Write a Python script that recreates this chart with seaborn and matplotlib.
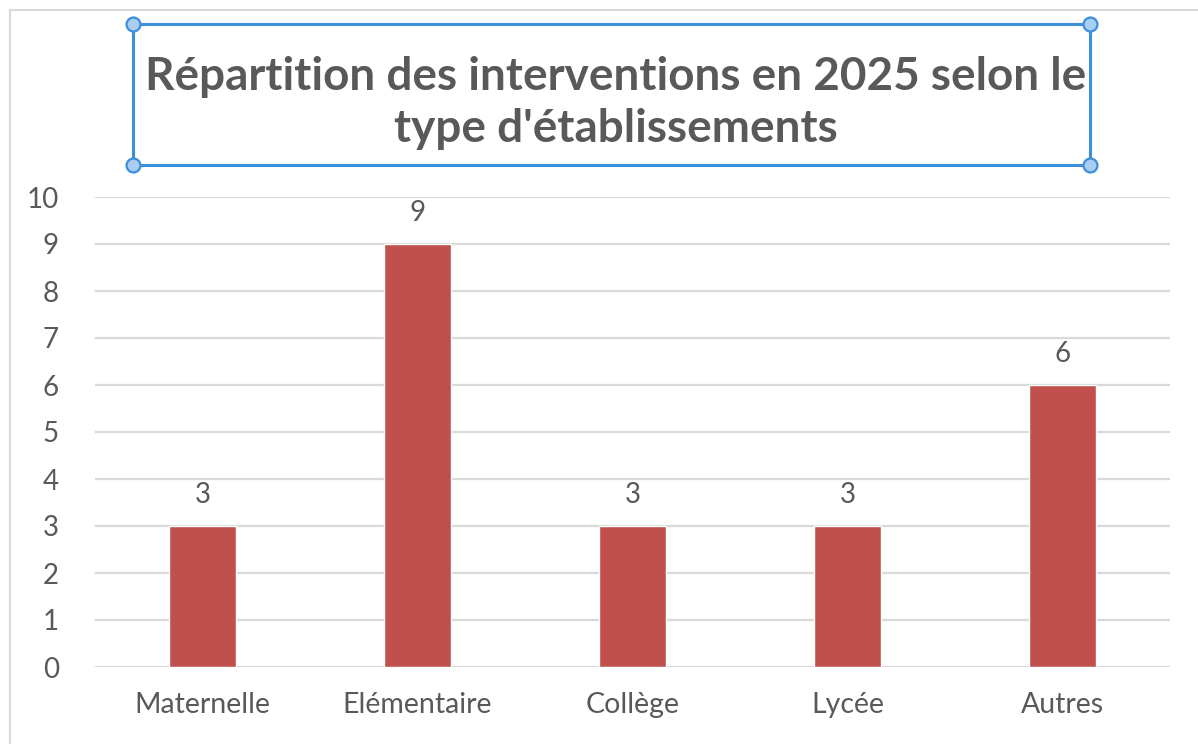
import matplotlib
matplotlib.use("Agg")
import matplotlib.pyplot as plt
import seaborn as sns
import pandas as pd
from matplotlib.patches import Rectangle
from matplotlib.lines import Line2D

categories = ["Maternelle", "Elémentaire", "Collège", "Lycée", "Autres"]
values = [3, 9, 3, 3, 6]
yticks = [0, 1, 2, 3, 4, 5, 6, 7, 8, 9, 10]
title = "Répartition des interventions en 2025 selon le\ntype d'établissements"

sns.set_theme(style="white")
plt.rcParams["font.family"] = ["Lato", "DejaVu Sans"]

TXT = "#595959"
BAR = "#C0504D"
GRID = "#D9D9D9"

W, H = 1198, 744
fig = plt.figure(figsize=(W / 100, H / 100), dpi=100)
ax = fig.add_axes([95 / W, (H - 667) / H, (1170 - 95) / W, (667 - 197) / H])

df = pd.DataFrame({"cat": categories, "val": values})
sns.barplot(data=df, x="cat", y="val", color=BAR, saturation=1, width=0.315, ax=ax)

ax.set_ylim(0, 10)
ax.set_yticks(yticks)
ax.set_xlim(-0.5, len(categories) - 0.5)
ax.set_xlabel("")
ax.set_ylabel("")
ax.yaxis.grid(True, color=GRID, linewidth=1.6)
ax.set_axisbelow(True)
for s in ax.spines.values():
    s.set_visible(False)
ax.tick_params(axis="y", length=0, pad=26, labelsize=20, labelcolor=TXT)
ax.tick_params(axis="x", length=0, pad=18, labelsize=20.5, labelcolor=TXT)

for container in ax.containers:
    ax.bar_label(container, labels=[str(v) for v in values], padding=13,
                 fontsize=20, color=TXT)

# title
fig.text(616 / W, 1 - 103 / H, title, ha="center", va="center",
         fontsize=33, fontweight="bold", color=TXT, linespacing=1.32)

# selection box around the title
x0, y0, x1, y1 = 133, 24, 1090, 165
blue = "#3D8EDB"
rect = Rectangle((x0 / W, 1 - y1 / H), (x1 - x0) / W, (y1 - y0) / H,
                 transform=fig.transFigure, fill=False, edgecolor=blue,
                 linewidth=2.2)
fig.add_artist(rect)
for (cx, cy) in [(x0, y0), (x1, y0), (x0, y1), (x1, y1)]:
    fig.add_artist(Line2D([cx / W], [1 - cy / H], transform=fig.transFigure,
                          marker="o", markersize=10, markerfacecolor="#A9CEF2",
                          markeredgecolor=blue, markeredgewidth=1.6))

# chart area border (top and left)
bc = "#D9D9D9"
fig.add_artist(Line2D([10 / W, 1], [1 - 10 / H, 1 - 10 / H], transform=fig.transFigure,
                      color=bc, linewidth=1.5))
fig.add_artist(Line2D([10 / W, 10 / W], [0, 1 - 10 / H], transform=fig.transFigure,
                      color=bc, linewidth=1.5))

fig.savefig("out.png", dpi=100, facecolor="white")
